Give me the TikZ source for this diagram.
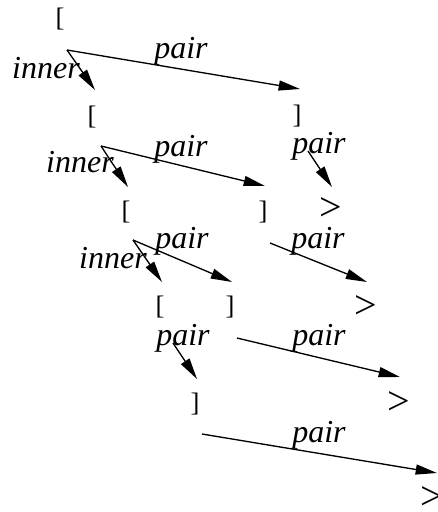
\documentclass[tikz,border=0pt]{standalone}
\usepackage{fontspec}
\setmainfont{Liberation Serif}
\usetikzlibrary{arrows.meta}
\begin{document}
\begin{tikzpicture}[x=0.75pt,y=-0.75pt,
  brk/.style={inner sep=0pt,font=\fontsize{20}{20}\selectfont},
  gt/.style={inner sep=0pt,font=\fontsize{30}{30}\selectfont},
  lbl/.style={inner sep=0pt,anchor=base,font=\fontsize{24}{24}\selectfont\itshape},
  edge/.style={line width=1pt,-{Triangle[length=16pt,width=7.5pt]}}]
\useasboundingbox (0,0) rectangle (437,512);
% nodes
\node[brk] (A) at (60,19) {[};
\node[brk] (B) at (92,117) {[};
\node[brk] (C) at (297,116) {]};
\node[brk] (D) at (126,212) {[};
\node[brk] (E) at (263,212) {]};
\node[gt]  (F) at (331,209) {>};
\node[brk] (G) at (160,307) {[};
\node[brk] (H) at (230,307) {]};
\node[gt]  (I) at (366,307) {>};
\node[brk] (J) at (195,404) {]};
\node[gt]  (K) at (399,403) {>};
\node[gt]  (L) at (432,498) {>};
% edge end points
\coordinate (As) at (67,50);
\coordinate (Bt) at (95,90);
\coordinate (Ct) at (300,89);
\coordinate (Bs) at (101,146);
\coordinate (Dt) at (128,187);
\coordinate (Et) at (265,186);
\coordinate (Cs) at (308,151);
\coordinate (Ft) at (332,187);
\coordinate (Ds) at (133,240);
\coordinate (Gt) at (162,282);
\coordinate (Ht) at (232,282);
\coordinate (Es) at (270,243);
\coordinate (It) at (367,282);
\coordinate (Gs) at (173,343);
\coordinate (Jt) at (197,379);
\coordinate (Hs) at (237,338);
\coordinate (Kt) at (400,377);
\coordinate (Js) at (202,434);
\coordinate (Lt) at (437,473);
% edges
\draw[edge] (As) -- (Bt);
\draw[edge] (As) -- (Ct);
\draw[edge] (Bs) -- (Dt);
\draw[edge] (Bs) -- (Et);
\draw[edge] (Cs) -- (Ft);
\draw[edge] (Ds) -- (Gt);
\draw[edge] (Ds) -- (Ht);
\draw[edge] (Es) -- (It);
\draw[edge] (Gs) -- (Jt);
\draw[edge] (Hs) -- (Kt);
\draw[edge] (Js) -- (Lt);
% labels
\node[lbl] (l1) at (46,78) {inner};
\node[lbl] (l2) at (181,58) {pair};
\node[lbl] (l3) at (80,172) {inner};
\node[lbl] (l4) at (181,156) {pair};
\node[lbl] (l5) at (319,153) {pair};
\node[lbl] (l6) at (113,268) {inner};
\node[lbl] (l7) at (182,248) {pair};
\node[lbl] (l8) at (318,248) {pair};
\node[lbl] (l9) at (183,345) {pair};
\node[lbl] (l10) at (319,345) {pair};
\node[lbl] (l11) at (319,442) {pair};
\end{tikzpicture}
\end{document}
